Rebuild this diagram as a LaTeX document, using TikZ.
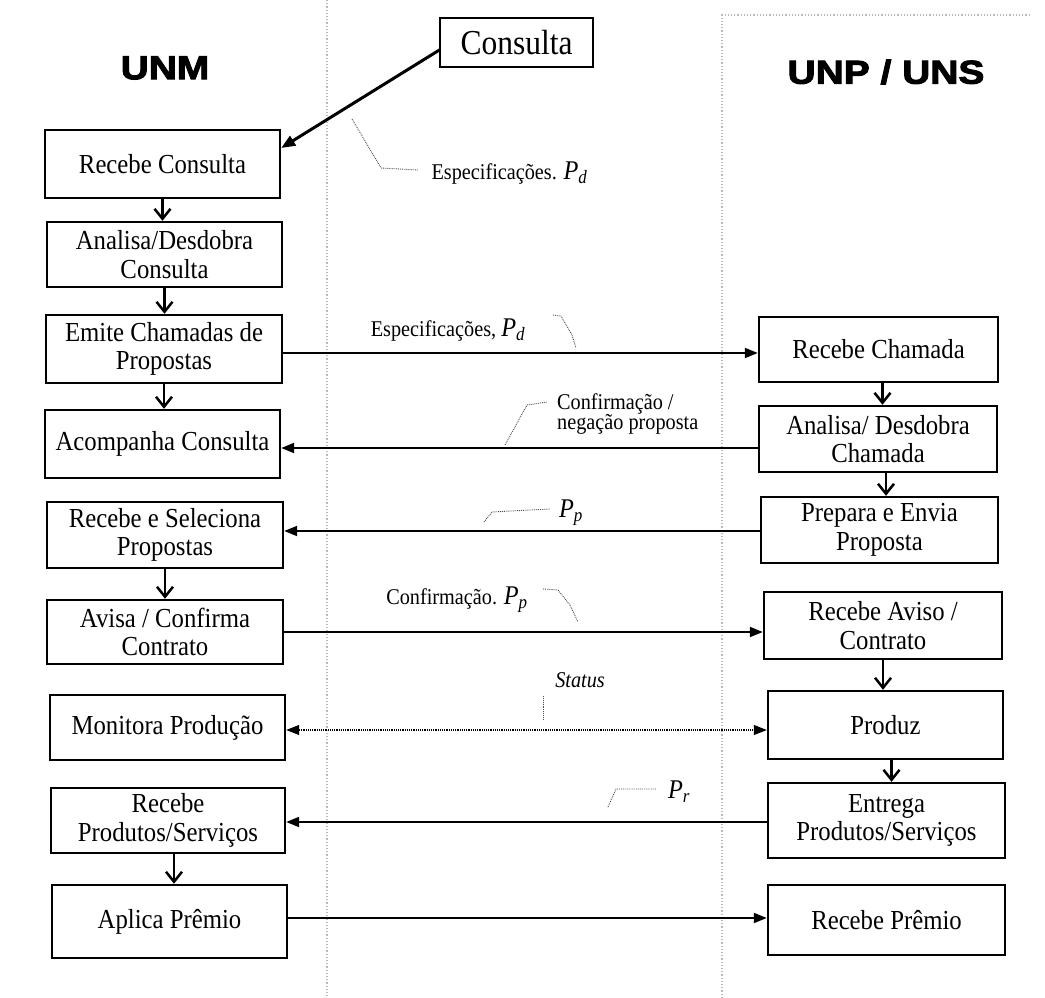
\documentclass[tikz,border=0pt]{standalone}
\usepackage{fontspec}
\setmainfont{Liberation Serif}[FakeStretch=0.9]
\newfontfamily\headfont{Liberation Sans}[FakeStretch=1.18,FakeBold=3]
\usetikzlibrary{arrows.meta}
\newcommand\pvar[1]{{\fontsize{27}{27}\selectfont\itshape P\textsubscript{#1}}}

\begin{document}
\begin{tikzpicture}[x=1pt,y=-1pt,
  stepbox/.style={draw, line width=2.4pt, inner sep=0pt, align=center,
    font=\fontsize{27.5}{28.5}\selectfont},
  flow/.style={line width=2.5pt, -{Straight Barb[length=10pt,width=16pt]}},
  msg/.style={line width=2pt, -{Triangle[length=13pt,width=10pt]}},
  lead/.style={densely dotted, line width=0.9pt, black!70},
  lane/.style={gray!55, dotted, line width=1.2pt},
  lbl/.style={font=\fontsize{22.5}{18.5}\selectfont, inner sep=0pt},
  head/.style={font=\headfont\bfseries\fontsize{33}{33}\selectfont, inner sep=0pt}
]
\useasboundingbox (0,0) rectangle (1045,998);

% faint lane separators
\draw[lane] (327,0) -- (327,998);
\draw[lane] (722,998) -- (722,15) -- (1030,15);

% lane headings
\node[head] (unm) at (165,68) {UNM};
\node[head] (unp) at (886,72) {UNP / UNS};

% incoming request
\node[draw, line width=1.2pt, inner sep=0pt, minimum width=153pt, minimum height=49pt,
  font=\fontsize{35}{35}\selectfont] (c) at (516.5,42.5) {Consulta};

% UNM activities
\node[stepbox, minimum width=235pt, minimum height=68pt] (a1) at (162.5,164) {Recebe Consulta};
\node[stepbox, minimum width=235pt, minimum height=65pt] (a2) at (164.5,254.5) {Analisa/Desdobra\\Consulta};
\node[stepbox, minimum width=236pt, minimum height=68pt] (a3) at (164,349) {Emite Chamadas de\\Propostas};
\node[stepbox, minimum width=235pt, minimum height=68pt] (a4) at (162.5,444) {Acompanha Consulta};
\node[stepbox, minimum width=236pt, minimum height=66pt] (a5) at (165,535) {Recebe e Seleciona\\Propostas};
\node[stepbox, minimum width=236pt, minimum height=64pt] (a6) at (165,632) {Avisa / Confirma\\Contrato};
\node[stepbox, minimum width=235pt, minimum height=65pt] (a7) at (167.5,727.5) {Monitora Produção};
\node[stepbox, minimum width=234pt, minimum height=65pt] (a8) at (168,820.5) {Recebe\\Produtos/Serviços};
\node[stepbox, minimum width=235pt, minimum height=73pt] (a9) at (169.5,921.5) {Aplica Prêmio};

% UNP / UNS activities
\node[stepbox, minimum width=239pt, minimum height=65pt] (b1) at (878.5,349.5) {Recebe Chamada};
\node[stepbox, minimum width=238pt, minimum height=66pt] (b2) at (878,439) {Analisa/ Desdobra\\Chamada};
\node[stepbox, minimum width=237pt, minimum height=66pt] (b3) at (879.5,530) {Prepara e Envia\\Proposta};
\node[stepbox, minimum width=238pt, minimum height=67pt] (b4) at (883,625.5) {Recebe Aviso /\\Contrato};
\node[stepbox, minimum width=235pt, minimum height=68pt] (b5) at (885.5,725) {Produz};
\node[stepbox, minimum width=237pt, minimum height=75pt] (b6) at (886.5,820.5) {Entrega\\Produtos/Serviços};
\node[stepbox, minimum width=237pt, minimum height=70pt] (b7) at (886.5,920) {Recebe Prêmio};

% request arrives at UNM
\draw[line width=3pt, -{Triangle[length=14pt,width=11pt]}] ([yshift=-7.5pt]c.west) -- ([yshift=16pt]a1.east);

% sequence inside each lane
\draw[flow] (a1.south) -- (a1.south |- a2.north);
\draw[flow] (a2.south) -- (a2.south |- a3.north);
\draw[flow] (a3.south) -- (a3.south |- a4.north);
\draw[flow] (a5.south) -- (a5.south |- a6.north);
\draw[flow] ([xshift=6pt]a8.south) -- ([xshift=6pt]a8.south |- a9.north);
\draw[flow] ([xshift=4pt]b1.south) -- ([xshift=4pt]b1.south |- b2.north);
\draw[flow] ([xshift=8pt]b2.south) -- ([xshift=8pt]b2.south |- b3.north);
\draw[flow] (b4.south) -- (b4.south |- b5.north);
\draw[flow] ([xshift=6pt]b5.south) -- ([xshift=6pt]b5.south |- b6.north);

% messages between the lanes
\draw[msg] (a3.east |- 0,353) -- (b1.west |- 0,353);
\draw[msg] (b2.west |- 0,448) -- (a4.east |- 0,448);
\draw[msg] (b3.west |- 0,531) -- (a5.east |- 0,531);
\draw[msg] (a6.east |- 0,632) -- (b4.west |- 0,632);
\draw[line width=1.2pt, densely dotted,
  {Triangle[length=13pt,width=10pt]}-{Triangle[length=13pt,width=10pt]}]
  (a7.east |- 0,730) -- (b5.west |- 0,730);
\draw[msg] (b6.west |- 0,822) -- (a8.east |- 0,822);
\draw[msg] (a9.east |- 0,918) -- (b7.west |- 0,918);

% message labels and their leaders
\node[lbl] (l1) at (509.5,173) {Especificações. \pvar{d}};
\draw[lead] (352,119) -- (381,168) -- (418,170);

\node[lbl] (l2) at (448,330) {Especificações, \pvar{d}};
\node[lbl, anchor=west, align=left] (l3) at (557,414) {Confirmação /\\negação proposta};
\node[lbl] (l4) at (571,513) {\pvar{p}};
\node[lbl] (l5) at (457,600) {Confirmação. \pvar{p}};
\node[lbl] (l6) at (580,680) {\itshape Status};
\node[lbl] (l7) at (679,792) {\pvar{r}};

\draw[lead] (553,315) -- (561,316) -- (572,335) -- (576,348);
\draw[lead] (505,445) -- (527,405) -- (547,402);
\draw[lead] (484,522) -- (492,512) -- (550,509);
\draw[lead] (543,589) -- (558,590) -- (570,605) -- (578,622);
\draw[lead] (543,696) -- (543,720);
\draw[lead] (608,807) -- (616,789) -- (657,789);
\end{tikzpicture}
\end{document}
